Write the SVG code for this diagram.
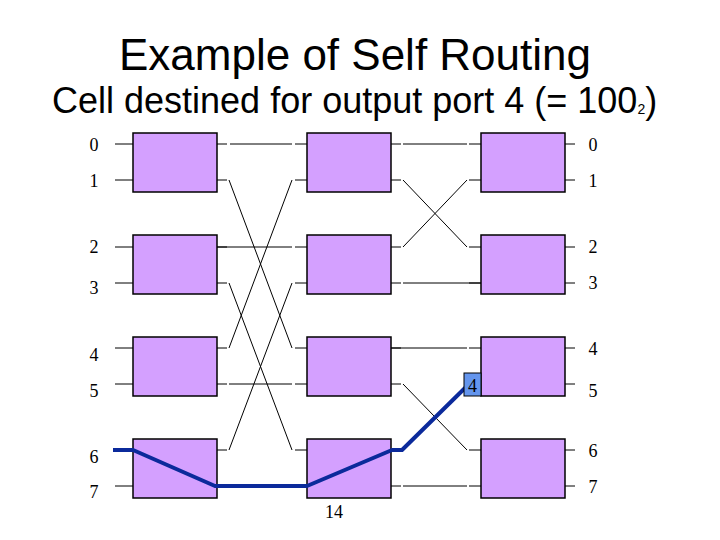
<svg xmlns="http://www.w3.org/2000/svg" width="720" height="540" viewBox="0 0 720 540">
<style>
.title{font-family:"Liberation Sans",Arial,sans-serif;fill:#000}
.lbl{font-family:"Liberation Serif","Times New Roman",serif;font-size:18px;fill:#000;text-anchor:middle}
.box{fill:#d4a0ff;stroke:#000;stroke-width:1.5}
.ln{stroke:#000;stroke-width:1;fill:none}
.path{stroke:#0b2a9b;stroke-width:4;fill:none;stroke-linejoin:round}
</style>
<rect x="0" y="0" width="720" height="540" fill="#fff"/>
<text class="title" x="355" y="70" font-size="44" text-anchor="middle">Example of Self Routing</text>
<text class="title" x="52" y="113" font-size="36">Cell destined for output port 4 (= 100<tspan font-size="14" dy="1">2</tspan><tspan dy="-1">)</tspan></text>

<g id="connectors">
<path class="ln" d="M115,144H133M115,180H133M115,247H133M115,283H133M115,348H133M115,384H133M115,486H133"/>
<path class="ln" d="M217,144H227M217,180H227M217,247H227M217,283H227M217,348H227M217,384H227M217,450H227"/>
<path class="ln" d="M295,144H307M295,180H307M295,247H307M295,283H307M295,348H307M295,384H307M295,450H307"/>
<path class="ln" d="M230,144H292M217,247H292M229,384H292M227,486H307"/>
<path class="ln" d="M229,180L292,348M229,348L292,180M229,283L292,450M229,450L292,283"/>
<path class="ln" d="M391,144H401M391,180H401M391,247H401M391,283H401M391,348H401M391,384H401M391,486H401"/>
<path class="ln" d="M469,144H481M469,180H481M469,247H481M469,283H481M469,348H481M469,450H481M469,486H481"/>
<path class="ln" d="M403,144H467M403,283H481M391,348H467M403,486H467"/>
<path class="ln" d="M403,180L467,247M403,247L467,180M403,384L467,450"/>
<path class="ln" d="M565,144H575M565,180H575M565,247H575M565,283H575M565,348H575M565,384H575M565,450H575M565,486H575"/>
</g>

<g id="col1">
<g id="s1b0"><rect class="box" x="133" y="133" width="84" height="59"/></g>
<g id="s1b1"><rect class="box" x="133" y="235" width="84" height="59"/></g>
<g id="s1b2"><rect class="box" x="133" y="337" width="84" height="59"/></g>
<g id="s1b3"><rect class="box" x="133" y="439" width="84" height="59"/></g>
</g>
<g id="col2">
<g id="s2b0"><rect class="box" x="307" y="133" width="84" height="59"/></g>
<g id="s2b1"><rect class="box" x="307" y="235" width="84" height="59"/></g>
<g id="s2b2"><rect class="box" x="307" y="337" width="84" height="59"/></g>
<g id="s2b3"><rect class="box" x="307" y="439" width="84" height="59"/></g>
</g>
<g id="col3">
<g id="s3b0"><rect class="box" x="481" y="133" width="84" height="59"/></g>
<g id="s3b1"><rect class="box" x="481" y="235" width="84" height="59"/></g>
<g id="s3b2"><rect class="box" x="481" y="337" width="84" height="59"/></g>
<g id="s3b3"><rect class="box" x="481" y="439" width="84" height="59"/></g>
</g>

<g id="route">
<polyline class="path" points="113,450 133,450 215,486 307,486 392,450 402,450 466,387"/>
</g>
<g id="cell">
<rect x="464" y="373" width="17" height="23" fill="#6495ed" stroke="#000" stroke-width="1"/>
<text class="lbl" x="472.5" y="392">4</text>
</g>

<g id="labels-in">
<text class="lbl" x="94" y="151">0</text>
<text class="lbl" x="94" y="187">1</text>
<text class="lbl" x="94" y="253">2</text>
<text class="lbl" x="94" y="294">3</text>
<text class="lbl" x="94" y="361">4</text>
<text class="lbl" x="94" y="397">5</text>
<text class="lbl" x="94" y="463">6</text>
<text class="lbl" x="94" y="498">7</text>
</g>
<g id="labels-out">
<text class="lbl" x="593" y="151">0</text>
<text class="lbl" x="593" y="187">1</text>
<text class="lbl" x="593" y="253">2</text>
<text class="lbl" x="593" y="289">3</text>
<text class="lbl" x="593" y="355">4</text>
<text class="lbl" x="593" y="397">5</text>
<text class="lbl" x="593" y="457">6</text>
<text class="lbl" x="593" y="493">7</text>
</g>
<text class="lbl" x="334" y="518">14</text>
</svg>
